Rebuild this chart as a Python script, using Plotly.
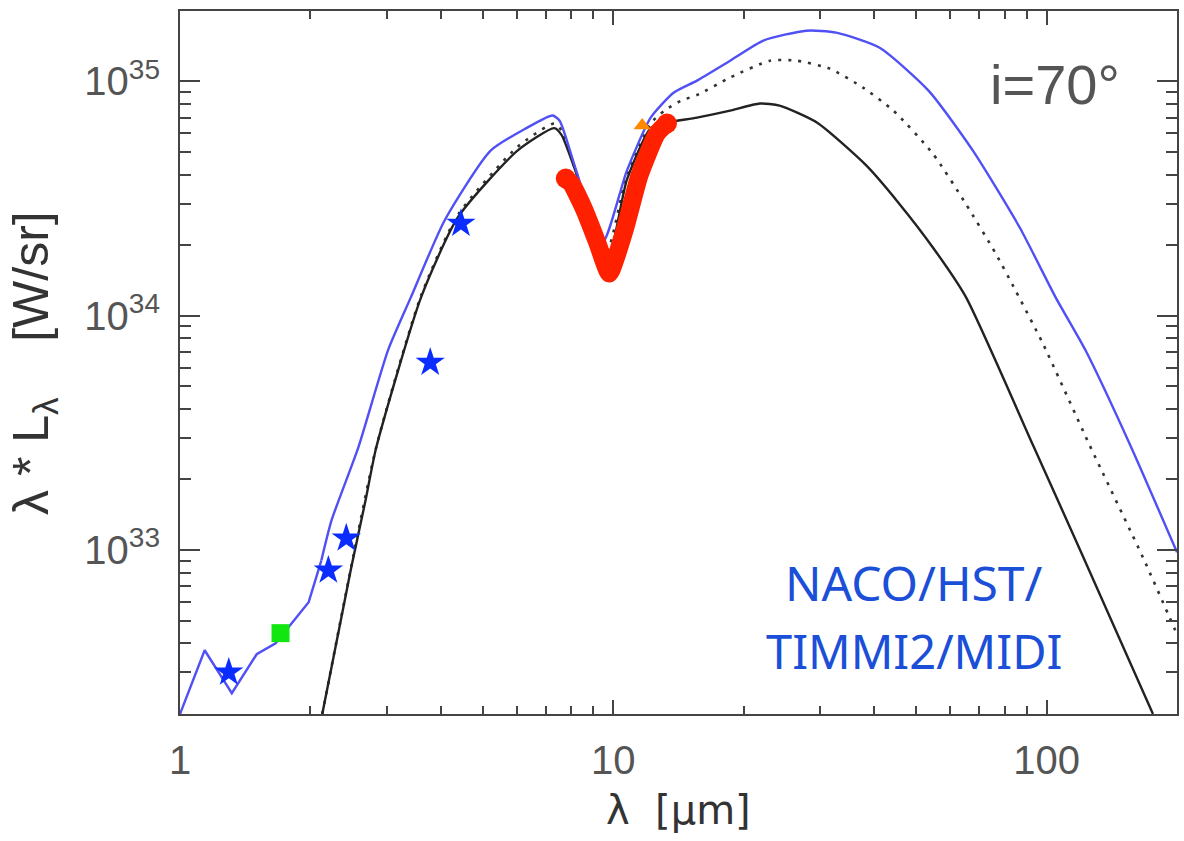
import plotly.graph_objects as go

# ---- data (wavelength in micron, log10 of lambda*L_lambda in W/sr) ----
blue_wl = [1.0, 1.14, 1.317, 1.503, 1.662, 1.981, 2.12, 2.237, 2.58, 3.02, 3.41, 4.08,
           5.21, 6.3, 7.24, 7.52, 8.17, 9.44, 10.75, 12.2, 13.8, 15.6, 18.6, 22.2,
           27.9, 32.7, 41.1, 53.4, 67.6, 86.7, 105.0, 123.0, 156.0, 200.0]
blue_logL = [32.30, 32.572, 32.389, 32.555, 32.602, 32.777, 32.956, 33.126, 33.438, 33.852,
             34.078, 34.406, 34.704, 34.80, 34.854, 34.832, 34.632, 34.312, 34.619, 34.845,
             34.952, 35.003, 35.088, 35.174, 35.216, 35.208, 35.144, 34.960, 34.704,
             34.376, 34.077, 33.852, 33.447, 32.99]

black_wl = [2.13, 2.485, 2.68, 2.838, 3.60, 4.38, 6.01, 7.31, 7.6, 8.17, 9.69, 10.75,
            12.2, 13.3, 15.6, 18.6, 21.8, 24.2, 29.5, 38.4, 45.6, 54.7, 65.1,
            92.9, 119.5, 176.0]
black_logL = [32.30, 32.926, 33.211, 33.438, 34.078, 34.42, 34.704, 34.80, 34.77, 34.62,
              34.235, 34.58, 34.80, 34.824, 34.845, 34.875, 34.905, 34.896, 34.824,
              34.64, 34.48, 34.29, 34.08, 33.45, 33.0, 32.30]

dot_wl = [2.13, 2.485, 2.838, 3.60, 4.38, 6.01, 7.31, 7.6, 8.17, 9.6, 10.75, 12.2, 13.1,
          14.3, 15.8, 18.6, 23.0, 26.5, 31.6, 37.7, 44.3, 54.7, 65.1, 76.3, 84.8, 98.1,
          125.2, 166.9, 190.5, 200.0]
dot_logL = [32.30, 32.93, 33.44, 34.085, 34.43, 34.72, 34.82, 34.79, 34.625, 34.26, 34.60,
            34.82, 34.874, 34.916, 34.946, 35.016, 35.088, 35.088, 35.054, 34.973, 34.875,
            34.69, 34.477, 34.265, 34.107, 33.88, 33.454, 32.968, 32.729, 32.64]

midi_wl = [7.77, 8.0, 8.58, 9.19, 9.79, 10.6, 11.5, 12.6, 13.3]
midi_logL = [34.585, 34.563, 34.45, 34.31, 34.18, 34.36, 34.60, 34.776, 34.82]

star_wl = [1.296, 2.20, 2.42, 3.78, 4.45]
star_logL = [32.478, 32.913, 33.05, 33.80, 34.393]

square_wl = [1.706]
square_logL = [32.645]

tri_wl = [11.66]
tri_logL = [34.811]

x_tickvals = [1, 10, 100]
x_ticktext = ["1", "10", "100"]
y_tickvals = [1e33, 1e34, 1e35]
y_ticktext = ["10<sup>33</sup>", "10<sup>34</sup>", "10<sup>35</sup>"]


def lin(v):
    return [10.0 ** a for a in v]


x_minor = [float(m) * 10.0 ** e for e in range(0, 3) for m in range(2, 10)]
y_minor = [float(m) * 10.0 ** e for e in range(32, 36) for m in range(2, 10)]

N_KINK = 7  # blue curve: straight segments at short wavelengths

fig = go.Figure()
fig.add_trace(go.Scatter(x=dot_wl, y=lin(dot_logL), mode="lines",
                         line=dict(color="#333333", width=2.6, dash="3px,7px",
                                   shape="spline", smoothing=0.6),
                         hoverinfo="skip"))
fig.add_trace(go.Scatter(x=black_wl, y=lin(black_logL), mode="lines",
                         line=dict(color="#222222", width=2.4, shape="spline", smoothing=0.6),
                         hoverinfo="skip"))
fig.add_trace(go.Scatter(x=blue_wl[:N_KINK], y=lin(blue_logL[:N_KINK]), mode="lines",
                         line=dict(color="#5050f5", width=2.4), hoverinfo="skip"))
fig.add_trace(go.Scatter(x=blue_wl[N_KINK - 1:], y=lin(blue_logL[N_KINK - 1:]), mode="lines",
                         line=dict(color="#5050f5", width=2.4, shape="spline", smoothing=0.6),
                         hoverinfo="skip"))
fig.add_trace(go.Scatter(x=midi_wl, y=lin(midi_logL), mode="lines",
                         line=dict(color="#ff2000", width=18, shape="spline", smoothing=0.5),
                         hoverinfo="skip"))
fig.add_trace(go.Scatter(x=[midi_wl[0], midi_wl[-1]], y=lin([midi_logL[0], midi_logL[-1]]),
                         mode="markers", marker=dict(color="#ff2000", size=20, line=dict(width=0)),
                         hoverinfo="skip"))
fig.add_trace(go.Scatter(x=star_wl, y=lin(star_logL), mode="markers",
                         marker=dict(symbol="star", color="#0a2cff", size=22, line=dict(width=0)),
                         hoverinfo="skip"))
fig.add_trace(go.Scatter(x=square_wl, y=lin(square_logL), mode="markers",
                         marker=dict(symbol="square", color="#11e611", size=18, line=dict(width=0)),
                         hoverinfo="skip"))
fig.add_trace(go.Scatter(x=tri_wl, y=lin(tri_logL), mode="markers",
                         marker=dict(symbol="triangle-up", color="#ff8a00", size=15, line=dict(width=0)),
                         hoverinfo="skip"))

axis_common = dict(
    showline=True, linecolor="#444444", linewidth=2, mirror="allticks",
    ticks="inside", tickcolor="#444444", tickwidth=2,
    showgrid=False, zeroline=False,
    tickfont=dict(family="Liberation Sans, Arial, sans-serif", size=40, color="#555555"),
)

fig.update_layout(
    width=1184, height=841,
    margin=dict(l=180, r=5, t=11, b=127),
    paper_bgcolor="white", plot_bgcolor="white",
    showlegend=False,
    xaxis=dict(type="log", range=[0, 2.301], tickmode="array",
               tickvals=x_tickvals, ticktext=x_ticktext, ticklen=14,
               ticklabelstandoff=10,
               minor=dict(tickmode="array", tickvals=x_minor, ticks="inside", ticklen=8,
                          tickwidth=2, tickcolor="#444444", showgrid=False),
               **axis_common),
    yaxis=dict(type="log", range=[32.30, 35.30], tickmode="array",
               tickvals=y_tickvals, ticktext=y_ticktext, ticklen=20,
               ticklabelstandoff=10,
               minor=dict(tickmode="array", tickvals=y_minor, ticks="inside", ticklen=11,
                          tickwidth=2, tickcolor="#444444", showgrid=False),
               **axis_common),
    annotations=[
        dict(text="i=70°", xref="paper", yref="paper", x=0.945, y=0.895,
             xanchor="right", yanchor="middle", showarrow=False,
             font=dict(family="Liberation Sans, Arial, sans-serif", size=56, color="#555555")),
        dict(text="NACO/HST/", xref="paper", yref="paper", x=0.736, y=0.187,
             xanchor="center", yanchor="middle", showarrow=False,
             font=dict(family="Noto Sans, sans-serif", size=48, color="#1b4fd8")),
        dict(text="TIMMI2/MIDI", xref="paper", yref="paper", x=0.736, y=0.09,
             xanchor="center", yanchor="middle", showarrow=False,
             font=dict(family="Noto Sans, sans-serif", size=47, color="#1b4fd8")),
        dict(text="λ  [μm]", xref="paper", yref="paper", x=0.5, y=-0.137,
             xanchor="center", yanchor="middle", showarrow=False,
             font=dict(family="DejaVu Sans, sans-serif", size=40, color="#333333")),
        dict(text="λ * L<sub>λ</sub>    [W/sr]", xref="paper", yref="paper", x=-0.146, y=0.5,
             xanchor="center", yanchor="middle", textangle=-90, showarrow=False,
             font=dict(family="Liberation Sans, Arial, sans-serif", size=50, color="#333333")),
    ],
)

fig.write_html("out.html")
